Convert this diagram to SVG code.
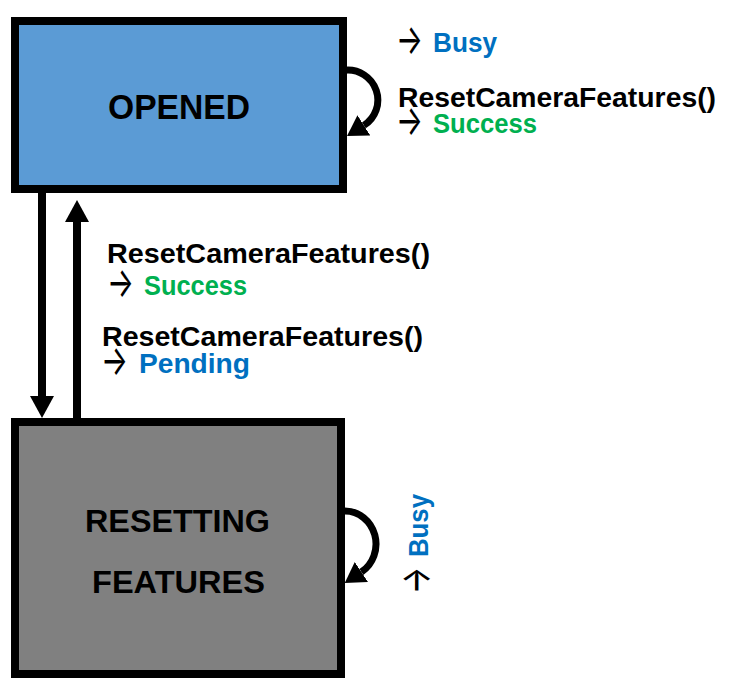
<svg xmlns="http://www.w3.org/2000/svg" width="734" height="687" viewBox="0 0 734 687">
<style>
.box{stroke:#000;stroke-width:8}
.lbl{font-family:"Liberation Sans",Arial,sans-serif;font-weight:bold;fill:#000}
.arr{font-family:Inter,"DejaVu Sans",sans-serif;font-size:42px;font-weight:400;fill:#000}
.blue{fill:#0070C0}
.green{fill:#00B050}
.conn{stroke:#000;fill:none}
</style>
<defs>
<marker id="head" markerUnits="userSpaceOnUse" markerWidth="22" markerHeight="24" viewBox="0 0 22 24" refX="0" refY="12" orient="auto">
<path d="M0,0 L22,12 L0,24 z" fill="#000"/>
</marker>
<marker id="loophead" markerUnits="userSpaceOnUse" markerWidth="20" markerHeight="24" viewBox="0 0 20 24" refX="0" refY="12" orient="auto">
<path d="M0,0 L20,12 L0,24 z" fill="#000"/>
</marker>
</defs>
<rect width="734" height="687" fill="#fff"/>
<g id="opened">
<rect class="box" x="15" y="21" width="328" height="168" fill="#5B9BD5"/>
<text class="lbl" x="179" y="119" font-size="35" text-anchor="middle" textLength="142" lengthAdjust="spacingAndGlyphs">OPENED</text>
</g>
<g id="resetting">
<rect class="box" x="15" y="422" width="326" height="252" fill="#808080"/>
<text class="lbl" x="177.5" y="532" font-size="31" text-anchor="middle" textLength="185" lengthAdjust="spacingAndGlyphs">RESETTING</text>
<text class="lbl" x="178.5" y="593" font-size="31" text-anchor="middle" textLength="173" lengthAdjust="spacingAndGlyphs">FEATURES</text>
</g>
<g id="connectors">
<path class="conn" stroke-width="8" d="M42,193 L42,396" marker-end="url(#head)"/>
<path class="conn" stroke-width="8" d="M77,418 L77,222" marker-end="url(#head)"/>
<path class="conn" stroke-width="7" d="M345,70.2 A30,30 0 0 1 363.9,125.4" marker-end="url(#loophead)"/>
<path class="conn" stroke-width="7" d="M345,511 A31,33 0 0 1 361.4,572" marker-end="url(#loophead)"/>
</g>
<g id="labels">
<text class="arr" x="396" y="54" textLength="27" lengthAdjust="spacingAndGlyphs">→</text>
<text class="lbl blue" x="433" y="52" font-size="28" textLength="64" lengthAdjust="spacingAndGlyphs">Busy</text>
<text class="lbl" x="398" y="107" font-size="28" textLength="318" lengthAdjust="spacingAndGlyphs">ResetCameraFeatures()</text>
<text class="arr" x="396" y="135" textLength="27" lengthAdjust="spacingAndGlyphs">→</text>
<text class="lbl green" x="433" y="133" font-size="28" textLength="104" lengthAdjust="spacingAndGlyphs">Success</text>
<text class="lbl" x="107" y="263" font-size="28" textLength="323" lengthAdjust="spacingAndGlyphs">ResetCameraFeatures()</text>
<text class="arr" x="107" y="297" textLength="27" lengthAdjust="spacingAndGlyphs">→</text>
<text class="lbl green" x="144" y="295" font-size="28" textLength="103" lengthAdjust="spacingAndGlyphs">Success</text>
<text class="lbl" x="102" y="346" font-size="28" textLength="321" lengthAdjust="spacingAndGlyphs">ResetCameraFeatures()</text>
<text class="arr" x="101" y="375" textLength="27" lengthAdjust="spacingAndGlyphs">→</text>
<text class="lbl blue" x="139" y="373" font-size="28" textLength="111" lengthAdjust="spacingAndGlyphs">Pending</text>
<g transform="translate(428,594) rotate(-90)">
<text class="arr" x="0" y="2" textLength="27" lengthAdjust="spacingAndGlyphs">→</text>
<text class="lbl blue" x="37" y="0" font-size="28" textLength="63" lengthAdjust="spacingAndGlyphs">Busy</text>
</g>
</g>
</svg>
